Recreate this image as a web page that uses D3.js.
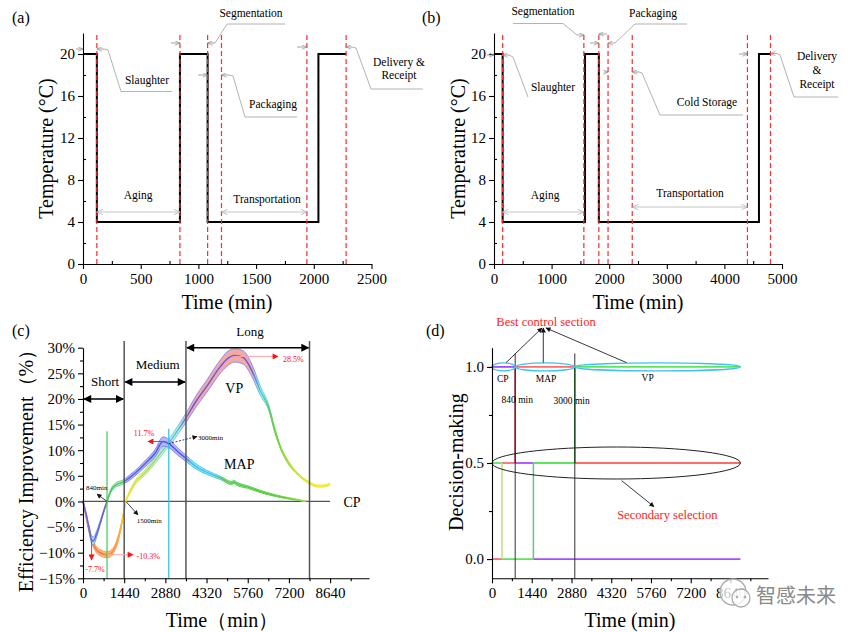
<!DOCTYPE html>
<html><head><meta charset="utf-8">
<script src="https://cdn.jsdelivr.net/npm/d3@7"></script>
<style>
body{margin:0;background:#fff}
</style>
</head><body>
<svg id="chart" width="865" height="632" xmlns="http://www.w3.org/2000/svg"></svg>
<script>
// ---------------- DATA ----------------
// Panel (a): temperature profile, short chain
const aTime = [0, 120, 840, 1080, 2040, 2280];
const aTemp = [20, 4, 20, 4, 20, 20];
const aPhaseLines = [120, 840, 1080, 1200, 1940, 2280];
const aXTicks = [0, 500, 1000, 1500, 2000, 2500];
const aXMinor = [250, 750, 1250, 1750, 2250];
// Panel (b): temperature profile, long chain
const bTime = [0, 150, 1580, 1820, 4600, 4800];
const bTemp = [20, 4, 20, 4, 20, 20];
const bPhaseLines = [150, 1560, 1820, 1980, 2400, 4400, 4800];
const bXTicks = [0, 1000, 2000, 3000, 4000, 5000];
const bXMinor = [500, 1500, 2500, 3500, 4500];
const tempTicks = [0, 4, 8, 12, 16, 20];
const tempMinor = [2, 6, 10, 14, 18];
// Panel (c): efficiency improvement vs CP
const mapTime = [0,120,240,300,360,480,600,720,840,960,1080,1200,1320,1440,1620,1800,2160,2520,2800,3000,3300,3600,3960,4320,4800,5200,5280,5360,5760,6400,7000,7500,7800];
const mapValue = [0,-2.8,-6.0,-7.5,-7.7,-6.3,-4.2,-2.0,0,1.9,2.9,3.4,3.6,3.9,4.6,5.4,7.3,9.4,11.7,11.3,9.8,8.4,6.8,5.7,4.6,3.6,3.8,3.5,2.8,1.6,0.8,0.3,0];
const mapErr = [0.2,0.4,0.6,0.7,0.8,0.6,0.4,0.3,0.2,0.3,0.4,0.4,0.4,0.4,0.5,0.5,0.6,0.7,0.9,0.8,0.7,0.6,0.5,0.4,0.3,0.3,0.3,0.3,0.25,0.2,0.15,0.1,0.05];
const vpTime = [0,120,240,360,480,600,720,840,960,1080,1200,1320,1420,1500,1620,1800,2160,2520,2880,3000,3300,3600,3960,4320,4800,5040,5300,5600,5900,6200,6500,6700,6900,7200,7500,7920,8200,8400,8640];
const vpValue = [0,-3.2,-6.3,-8.3,-9.5,-10.0,-10.3,-10.4,-10.2,-9.4,-7.8,-5.2,-2.3,0,1.6,3.5,5.6,8.0,10.6,11.4,13.8,16.3,19.6,22.4,26.3,27.8,28.5,28.1,25.6,21.6,18.2,14.0,10.6,7.4,5.4,3.6,3.0,3.0,3.4];
const vpErr = [0.2,0.4,0.5,0.6,0.6,0.6,0.6,0.6,0.6,0.5,0.5,0.4,0.3,0.2,0.3,0.4,0.5,0.6,0.7,0.7,0.8,0.9,1.1,1.2,1.3,1.4,1.3,1.3,1.2,0.9,0.5,0.4,0.3,0.3,0.2,0.2,0.2,0.2,0.2];
const cRangeBounds = [1440, 3600, 7920];           // Short | Medium | Long
const cRangeNames = ["Short", "Medium", "Long"];
const cRangeStart = [0, 1440, 3600];
const cRangeEnd = [1440, 3600, 7920];
const cRangeLevel = [20, 23.3, 30];
const timeTicks = [0, 1440, 2880, 4320, 5760, 7200, 8640];
const timeMinor = [720, 2160, 3600, 5040, 6480, 7920, 9360];
const effTicks = [-15, -10, -5, 0, 5, 10, 15, 20, 25, 30];
const effMinor = [-12.5, -7.5, -2.5, 2.5, 7.5, 12.5, 17.5, 22.5, 27.5];
// Panel (d): decision-making
const dSegSeries = ["CP","MAP","VP",  "VP","MAP","CP","VP","MAP",  "MAP","VP","CP"];
const dSegLevel  = [1,1,1,  0.5,0.5,0.5,0.5,0.5,  0,0,0];
const dSegStart  = [0,840,3000,  0,360,840,1500,3000,  0,360,1500];
const dSegEnd    = [840,3000,9000,  360,840,1500,3000,9000,  360,1500,9000];
const dStepTime  = [360, 1500, 840, 3000];
const dStepFrom  = [0, 0, 0.5, 0.5];
const dStepTo    = [0.5, 0.5, 1, 1];
const dStepColor = ["#b8e27c", "#6cc08c", "#d0002a", "#008a00"];
const dSwitchTimes = [840, 3000];
const dTicks = [0, 0.5, 1.0];
const dMinor = [0.25, 0.75];

// ---------------- SETUP ----------------
const SERIF = "'Liberation Serif','Times New Roman',Times,serif";
const svg = d3.select("#chart");
svg.append("rect").attr("width",865).attr("height",632).attr("fill","#fff");
const defs = svg.append("defs");

function mk(id, color, w, h, filled){
  defs.append("marker").attr("id",id).attr("viewBox","0 0 10 10").attr("refX",filled?9:10).attr("refY",5)
    .attr("markerWidth",w).attr("markerHeight",h).attr("markerUnits","userSpaceOnUse")
    .attr("orient","auto-start-reverse")
    .append("path").attr("d", filled ? "M0,0L10,5L0,10Z" : "M0,0.5L10,5L0,9.5")
    .attr("fill", filled ? color : "none").attr("stroke", filled ? "none" : color).attr("stroke-width", 1.3);
}
mk("ga", "#8a8a8a", 6, 5, false);
mk("gad", "#b0b0b0", 7, 6, false);
mk("bk", "#000", 9, 8, true);
mk("ks", "#111", 6, 5, true);
mk("rd", "#ff1010", 7, 6, true);

const xa = d3.scaleLinear().domain([0,2500]).range([83,371.5]);
const ya = d3.scaleLinear().domain([0,22]).range([264,33]);
const xb = d3.scaleLinear().domain([0,5000]).range([494,782]);
const yb = d3.scaleLinear().domain([0,22]).range([264,33]);
const xc = d3.scaleLinear().domain([0,10000]).range([83,369]);
const yc = d3.scaleLinear().domain([-15,30]).range([578.3,347.7]);
const xd = d3.scaleLinear().domain([0,10000]).range([492,768]);
const yd = d3.scaleLinear().domain([-0.1,1.1]).range([578.3,347.7]);

function drawAxes(x, y, xMaj, xMin, yMaj, yMin, yFmt, minorIn){
  const g = svg.append("g").attr("class","axes");
  g.append("g").attr("transform",`translate(0,${y.range()[0]})`)
    .call(d3.axisBottom(x).tickValues(xMaj).tickSize(5).tickSizeOuter(0).tickPadding(4).tickFormat(d3.format("d")));
  g.append("g").attr("transform",`translate(0,${y.range()[0]})`)
    .call(d3.axisBottom(x).tickValues(xMin).tickSize(minorIn?-3:3).tickSizeOuter(0).tickFormat(""))
    .select(".domain").remove();
  g.append("g").attr("transform",`translate(${x.range()[0]},0)`)
    .call(d3.axisLeft(y).tickValues(yMaj).tickSize(5).tickSizeOuter(0).tickPadding(3).tickFormat(yFmt));
  g.append("g").attr("transform",`translate(${x.range()[0]},0)`)
    .call(d3.axisLeft(y).tickValues(yMin).tickSize(minorIn?-3:3).tickSizeOuter(0).tickFormat(""))
    .select(".domain").remove();
  g.selectAll("g").attr("font-family",null);
  g.selectAll("text").attr("font-size",15).attr("fill","#000");
  g.selectAll("path,line").attr("stroke","#000").attr("stroke-width",1.1);
  return g;
}
function txt(x, y, s, size, opts={}){
  const t = svg.append("text").attr("x",x).attr("y",y).text(s).attr("font-size",size)
    .attr("text-anchor", opts.anchor || "middle").attr("fill", opts.fill || "#000");
  if (opts.rotate) t.attr("transform",`rotate(-90,${x},${y})`);
  if (opts.family) t.attr("data-family", opts.family);
  return t;
}
function poly(pts, color, w, opts={}){
  const p = svg.append("path").attr("d", d3.line()(pts)).attr("fill","none").attr("stroke",color).attr("stroke-width",w);
  if (opts.end) p.attr("marker-end",`url(#${opts.end})`);
  if (opts.start) p.attr("marker-start",`url(#${opts.start})`);
  if (opts.dash) p.attr("stroke-dasharray",opts.dash);
  return p;
}

// ---------------- PANEL (a) ----------------
function tempPanel(x, y, times, temps, phases){
  svg.append("path").datum(times.map((t,i)=>[t,temps[i]]))
    .attr("d", d3.line().x(d=>x(d[0])).y(d=>y(d[1])).curve(d3.curveStepAfter))
    .attr("fill","none").attr("stroke","#000").attr("stroke-width",2);
  svg.selectAll(null).data(phases).enter().append("line")
    .attr("x1",d=>x(d)).attr("x2",d=>x(d)).attr("y1",y(0)).attr("y2",y(22))
    .attr("stroke","#ff2a2a").attr("stroke-width",1.2).attr("stroke-dasharray","5,3");
}
tempPanel(xa, ya, aTime, aTemp, aPhaseLines);
drawAxes(xa, ya, aXTicks, aXMinor, tempTicks, tempMinor, d3.format("d"), true);
txt(12, 23, "(a)", 16, {anchor:"start"});
txt(53, ya(11) , "Temperature (°C)", 20, {rotate:true});
txt(227, 309, "Time (min)", 20);

const fA = 11.5, gl = "#a0a0a0";
// Slaughter
poly([[76,49],[xa(0),49]], "#8a8a8a", 0.8, {end:"ga"});
poly([[104,49],[xa(120),49]], "#8a8a8a", 0.8, {end:"ga"});
poly([[104,49],[108,50],[121,91.5],[172,91.5]], gl, 0.8);
txt(147, 84, "Slaughter", fA);
// Segmentation
poly([[171,43],[xa(840),43]], "#8a8a8a", 0.8, {end:"ga"});
poly([[215,43],[xa(1080),43]], "#8a8a8a", 0.8, {end:"ga"});
poly([[215,43],[227,24],[285,24]], gl, 0.8);
txt(251, 17, "Segmentation", fA);
// Packaging
poly([[198,75],[xa(1080),75]], "#8a8a8a", 0.8, {end:"ga"});
poly([[229,75],[xa(1200),75]], "#8a8a8a", 0.8, {end:"ga"});
poly([[229,75],[233,76],[245,117],[297,117]], gl, 0.8);
txt(273, 108, "Packaging", fA);
// Delivery
poly([[297,47],[xa(1940),47]], "#8a8a8a", 0.8, {end:"ga"});
poly([[352,47],[xa(2280),47]], "#8a8a8a", 0.8, {end:"ga"});
poly([[352,47],[356,48],[371,89],[423,89]], gl, 0.8);
txt(399, 66, "Delivery &", fA);
txt(399, 79, "Receipt", fA);
// Aging & Transportation
poly([[xa(120),212],[xa(840),212]], "#b5b5b5", 0.8, {start:"gad", end:"gad"});
txt(138, 199, "Aging", fA);
poly([[xa(1200),212],[xa(1940),212]], "#b5b5b5", 0.8, {start:"gad", end:"gad"});
txt(267, 203, "Transportation", fA);

// ---------------- PANEL (b) ----------------
tempPanel(xb, yb, bTime, bTemp, bPhaseLines);
drawAxes(xb, yb, bXTicks, bXMinor, tempTicks, tempMinor, d3.format("d"), true);
txt(422, 23, "(b)", 16, {anchor:"start"});
txt(465, yb(11), "Temperature (°C)", 20, {rotate:true});
txt(638, 309, "Time (min)", 20);
// Slaughter
poly([[487,55],[xb(0),55]], "#8a8a8a", 0.8, {end:"ga"});
poly([[509,55],[xb(150),55]], "#8a8a8a", 0.8, {end:"ga"});
poly([[509,55],[513,57],[528,97]], gl, 0.8);
txt(553, 91, "Slaughter", fA);
// Segmentation
poly([[513,23.5],[563,23.5],[577,35],[xb(1560),35]], gl, 0.8, {end:"ga"});
poly([[607,34],[xb(1820),34]], "#8a8a8a", 0.8, {end:"ga"});
txt(543, 15, "Segmentation", fA);
// Packaging
poly([[590,43],[xb(1820),43]], "#8a8a8a", 0.8, {end:"ga"});
poly([[687,24],[635,24],[615,43],[xb(1980),43]], gl, 0.8, {end:"ga"});
txt(653, 17, "Packaging", fA);
// Cold storage
poly([[604,72],[xb(1980),72]], "#8a8a8a", 0.8, {end:"ga"});
poly([[639,72],[xb(2400),72]], "#8a8a8a", 0.8, {end:"ga"});
poly([[639,72],[642,73],[660,115],[743,115]], gl, 0.8);
txt(707, 106, "Cold Storage", fA);
// Transportation / Aging
poly([[xb(2400),207],[xb(4400),207]], "#b5b5b5", 0.8, {start:"gad", end:"gad"});
txt(690, 197, "Transportation", fA);
poly([[xb(150),212],[xb(1560),212]], "#b5b5b5", 0.8, {start:"gad", end:"gad"});
txt(545, 199, "Aging", fA);
// Delivery
poly([[739,54],[xb(4400),54]], "#8a8a8a", 0.8, {end:"ga"});
poly([[777,53.5],[xb(4800),53.5]], "#8a8a8a", 0.8, {end:"ga"});
poly([[777,53.5],[780,55],[794,97],[838,97]], gl, 0.8);
txt(817, 60, "Delivery", fA);
txt(817, 74, "&", fA);
txt(817, 88, "Receipt", fA);

// ---------------- PANEL (c) ----------------
function grad(id, stops){
  const lg = defs.append("linearGradient").attr("id",id).attr("gradientUnits","userSpaceOnUse")
    .attr("x1",xc(0)).attr("x2",xc(10000)).attr("y1",0).attr("y2",0);
  stops.forEach(([t,c]) => lg.append("stop").attr("offset", t/10000).attr("stop-color", c));
}
grad("vpLine", [[0,"#ff8a3c"],[600,"#f07050"],[1200,"#ff9a40"],[1500,"#ffe020"],[1900,"#c8e840"],[2600,"#80d8a0"],[3300,"#50c0e8"],[3700,"#5a5ae6"],[5900,"#5a5ae6"],[6200,"#40c8e8"],[6700,"#60d040"],[7500,"#c8e830"],[8000,"#ffe820"],[10000,"#ffe820"]]);
grad("vpBand", [[0,"#ffb070"],[1450,"#ffb070"],[1550,"#eef3a0"],[3300,"#b8ecd8"],[3700,"#f4a4a0"],[5900,"#f4a4a0"],[6200,"#b0e8f0"],[7000,"#d8f2a8"],[10000,"#f6f2a0"]]);
grad("vpEdge", [[0,"#ffa060"],[1450,"#ff9a40"],[1550,"#f0e040"],[2600,"#90e0a0"],[3400,"#60c8f0"],[3700,"#8c8cf0"],[5900,"#8c8cf0"],[6200,"#50d0f0"],[6700,"#70d050"],[7500,"#d0e830"],[10000,"#ffe830"]]);
grad("mapLine", [[0,"#9050d0"],[400,"#6060e0"],[800,"#9050c0"],[880,"#50c070"],[1400,"#50c070"],[1500,"#4a64e0"],[3500,"#4a50e0"],[3800,"#30c0f0"],[4500,"#40c8f0"],[5000,"#40c040"],[7000,"#60d040"],[7800,"#a0e040"]]);
grad("mapBand", [[0,"#a8d8f0"],[820,"#a8d8f0"],[880,"#c8f2c8"],[1400,"#c8f2c8"],[1500,"#b4b4f8"],[3500,"#b4b4f8"],[3800,"#a0e4f8"],[4600,"#a0e4f8"],[5000,"#c8f2c8"],[10000,"#d8f2a8"]]);
grad("mapEdge", [[0,"#60b0e0"],[820,"#60b0e0"],[880,"#60d080"],[1400,"#60d080"],[1500,"#8080f0"],[3500,"#8080f0"],[3800,"#40c8f0"],[4600,"#40c8f0"],[5000,"#50c850"],[10000,"#a0e040"]]);

const vpData = vpTime.map((t,i)=>({t, v:vpValue[i], e:vpErr[i]}));
const mapData = mapTime.map((t,i)=>({t, v:mapValue[i], e:mapErr[i]}));
const area = d3.area().x(d=>xc(d.t)).y0(d=>yc(d.v-d.e)).y1(d=>yc(d.v+d.e)).curve(d3.curveMonotoneX);
const lineC = acc => d3.line().x(d=>xc(d.t)).y(d=>yc(acc(d))).curve(d3.curveMonotoneX);

function series(data, name){
  svg.append("path").datum(data).attr("d",area).attr("fill",`url(#${name}Band)`).attr("opacity",0.95);
  svg.append("path").datum(data).attr("d",lineC(d=>d.v+d.e)).attr("fill","none").attr("stroke",`url(#${name}Edge)`).attr("stroke-width",1);
  svg.append("path").datum(data).attr("d",lineC(d=>d.v-d.e)).attr("fill","none").attr("stroke",`url(#${name}Edge)`).attr("stroke-width",1);
  svg.append("path").datum(data).attr("d",lineC(d=>d.v)).attr("fill","none").attr("stroke",`url(#${name}Line)`).attr("stroke-width",1.4);
}
// zero line (CP reference)
svg.append("line").attr("x1",xc(0)).attr("x2",xc(8640)).attr("y1",yc(0)).attr("y2",yc(0)).attr("stroke","#555").attr("stroke-width",1.2);
series(vpData, "vp");
series(mapData, "map");

// Range separators
svg.selectAll(null).data(cRangeBounds).enter().append("line")
  .attr("x1",d=>xc(d)).attr("x2",d=>xc(d)).attr("y1",yc(-15)).attr("y2",yc(31.3))
  .attr("stroke","#555").attr("stroke-width",1.5);
// Switch markers
svg.append("line").attr("x1",xc(840)).attr("x2",xc(840)).attr("y1",yc(-15)).attr("y2",yc(13.7)).attr("stroke","#3ccf50").attr("stroke-width",1.2);
svg.append("line").attr("x1",xc(3000)).attr("x2",xc(3000)).attr("y1",yc(-15)).attr("y2",yc(14.2)).attr("stroke","#20c0f0").attr("stroke-width",1.2);
// Range arrows
cRangeNames.forEach((n,i)=>{
  poly([[xc(cRangeStart[i])+1,yc(cRangeLevel[i])],[xc(cRangeEnd[i])-1,yc(cRangeLevel[i])]], "#000", 1.6, {start:"bk", end:"bk"});
});
txt(105, 386, "Short", 13);
txt(157.7, 368.5, "Medium", 13);
txt(250, 336, "Long", 13);
txt(234.3, 393, "VP", 14);
txt(239.3, 469, "MAP", 14);
txt(352, 507, "CP", 14);

drawAxes(xc, yc, timeTicks, timeMinor, effTicks, effMinor, d=>d3.format("d")(d)+"%", false);
txt(12, 336, "(c)", 16, {anchor:"start"});
txt(33, 466, "Efficiency Improvement（%）", 20, {rotate:true});
txt(222, 627, "Time（min）", 20);

// red annotations
poly([[xc(5300),yc(28.3)],[278,yc(28.3)]], "#f8a8a8", 1, {end:"rd"});
txt(283, 362, "28.5%", 8, {anchor:"start", fill:"#ff1010"});
poly([[xc(2800),yc(11.7)],[148,yc(11.7)]], "#ff3030", 1, {end:"rd"});
txt(144, 436, "11.7%", 8, {fill:"#ff1010"});
poly([[xc(840),yc(-10.4)],[133,yc(-10.4)]], "#f8a8a8", 1, {end:"rd"});
txt(136.5, 559, "-10.3%", 8, {anchor:"start", fill:"#ff1010"});
poly([[xc(300),yc(-7.7)],[xc(300),560]], "#ff3030", 1, {end:"rd"});
txt(95, 572, "-7.7%", 8, {fill:"#ff1010"});
// black annotations
poly([[xc(840),yc(0)],[97,494]], "#111", 0.8, {end:"ks"});
txt(96.7, 490, "840min", 7);
poly([[xc(1500),yc(0)],[138,515]], "#111", 0.8, {end:"ks"});
txt(149.3, 523, "1500min", 7);
poly([[xc(3000),yc(11.3)],[197,436.5]], "#111", 0.8, {end:"ks", dash:"2,1.5"});
txt(210.5, 440, "3000min", 7);

// ---------------- PANEL (d) ----------------
const dColor = {CP:"#a64dff", MAP:"#ff6b6b", VP:"#5ce65c"};
svg.selectAll(null).data(dSegStart.map((s,i)=>i)).enter().append("line")
  .attr("x1",i=>xd(dSegStart[i])).attr("x2",i=>xd(dSegEnd[i]))
  .attr("y1",i=>yd(dSegLevel[i])).attr("y2",i=>yd(dSegLevel[i]))
  .attr("stroke",i=>dColor[dSegSeries[i]]).attr("stroke-width",1.8);
svg.selectAll(null).data(dStepTime.map((s,i)=>i)).enter().append("line")
  .attr("x1",i=>xd(dStepTime[i])).attr("x2",i=>xd(dStepTime[i]))
  .attr("y1",i=>yd(dStepFrom[i])).attr("y2",i=>yd(dStepTo[i]))
  .attr("stroke",i=>dStepColor[i]).attr("stroke-width",1.5);
svg.selectAll(null).data(dSwitchTimes).enter().append("line")
  .attr("x1",d=>xd(d)).attr("x2",d=>xd(d)).attr("y1",yd(-0.1)).attr("y2",yd(1.07))
  .attr("stroke","#333").attr("stroke-width",1);
// ellipses around best sections
[[0,840],[840,3000],[3000,9000]].forEach(([a,b])=>{
  svg.append("ellipse").attr("cx",(xd(a)+xd(b))/2).attr("cy",yd(1)).attr("rx",(xd(b)-xd(a))/2).attr("ry",4)
    .attr("fill","none").attr("stroke","#3cc0f0").attr("stroke-width",1.3);
});
svg.append("ellipse").attr("cx",(xd(0)+xd(9000))/2).attr("cy",yd(0.5)).attr("rx",(xd(9000)-xd(0))/2).attr("ry",16)
  .attr("fill","none").attr("stroke","#222").attr("stroke-width",1);
drawAxes(xd, yd, timeTicks, timeMinor, dTicks, dMinor, d3.format(".1f"), false);
txt(426, 336, "(d)", 16, {anchor:"start"});
txt(463, 462, "Decision-making", 20, {rotate:true});
txt(630, 627, "Time (min)", 20);
txt(502.7, 382, "CP", 9.5);
txt(546, 382, "MAP", 9.5);
txt(647.7, 381, "VP", 9.5);
txt(517.3, 403, "840 min", 9.5);
txt(571.7, 404, "3000 min", 9.5);
txt(546, 325.5, "Best control section", 12.5, {fill:"#ff1a1a"});
poly([[506,362.7],[542,328]], "#222", 0.9, {end:"ks"});
poly([[543.3,362.7],[543.3,328]], "#222", 0.9, {end:"ks"});
poly([[626.7,362.7],[546,328]], "#222", 0.9, {end:"ks"});
txt(667.3, 518.5, "Secondary selection", 12.5, {fill:"#ff1a1a"});
poly([[621.7,480.7],[654,506.7]], "#222", 0.9, {end:"ks"});

// watermark
const wm = svg.append("g");
wm.append("circle").attr("cx",733).attr("cy",592).attr("r",13).attr("fill","#fff").attr("fill-opacity",0.75).attr("stroke","#aaa").attr("stroke-width",1.3);
wm.append("circle").attr("cx",741).attr("cy",598).attr("r",9).attr("fill","#fff").attr("fill-opacity",0.75).attr("stroke","#aaa").attr("stroke-width",1.3);
wm.append("circle").attr("cx",737).attr("cy",597).attr("r",1.3).attr("fill","#aaa");
wm.append("circle").attr("cx",745).attr("cy",597).attr("r",1.3).attr("fill","#aaa");
txt(756, 603, "智感未来", 20, {anchor:"start", fill:"#8a8a8a", family:"'Noto Sans CJK SC',sans-serif"});

// fonts: serif everywhere, CJK font for the watermark
svg.selectAll("text").each(function(){
  const fam = this.getAttribute("data-family");
  this.style.setProperty("font-family", fam || SERIF, "important");
});
</script>
</body></html>
